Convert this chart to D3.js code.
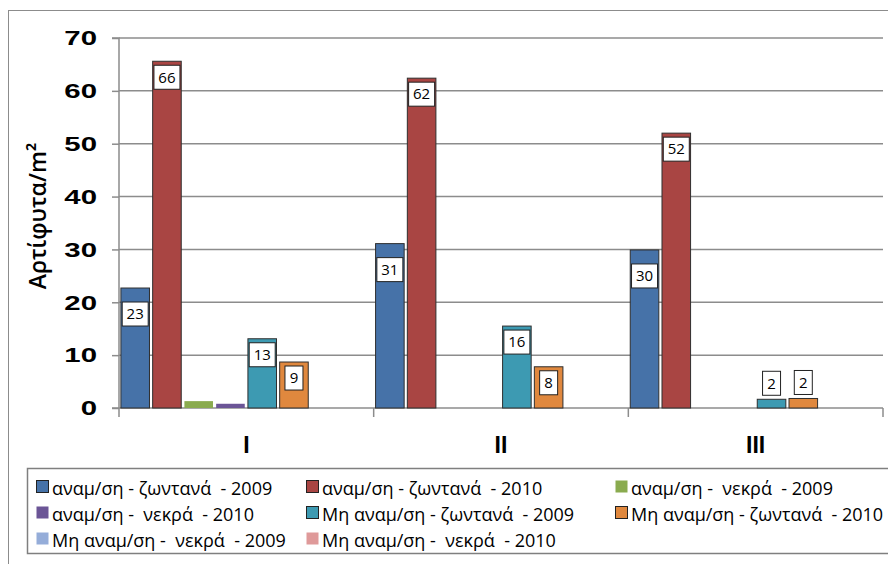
<!DOCTYPE html>
<html>
<head>
<meta charset="utf-8">
<script src="https://cdn.jsdelivr.net/npm/d3@7"></script>
<style>
  body { margin: 0; background: #fff; }
  svg { display: block; font-family: "Open Sans", sans-serif; }
</style>
</head>
<body>
<div id="chart"></div>
<script>
const categories = ["I", "II", "III"];
const seriesNames = [
    "αναμ/ση - ζωντανά  - 2009",
    "αναμ/ση - ζωντανά  - 2010",
    "αναμ/ση -  νεκρά  - 2009",
    "αναμ/ση -  νεκρά  - 2010",
    "Μη αναμ/ση - ζωντανά  - 2009",
    "Μη αναμ/ση - ζωντανά  - 2010",
    "Μη αναμ/ση -  νεκρά  - 2009",
    "Μη αναμ/ση -  νεκρά  - 2010"
];
const seriesValues = [
    [22.7, 31.1, 29.9],
    [65.6, 62.4, 52.0],
    [1.3, 0, 0],
    [0.8, 0, 0],
    [13.1, 15.5, 1.65],
    [8.7, 7.8, 1.8],
    [0, 0, 0],
    [0, 0, 0]
];
const seriesLabelled = [true, true, false, false, true, true, false, false];
const yTicks = [0, 10, 20, 30, 40, 50, 60, 70];
const yTitle = "Αρτίφυτα/m²";

(() => {
    const width = 888, height = 564;
    const plot = { left: 119, right: 883, top: 38, bottom: 408 };
    const colors = ["#4672a8", "#a94543", "#8aab4f", "#6b5596", "#3d9ab2", "#e0883e", "#95add9", "#df9a9a"];
    const outlined = [true, true, false, false, true, true, false, false];
    const tickStretch = 1.4;

    const svg = d3.select("#chart").append("svg")
        .attr("width", width)
        .attr("height", height);

    // chart frame
    svg.append("rect")
        .attr("x", 8.5).attr("y", 10.5)
        .attr("width", 900).attr("height", 600)
        .attr("fill", "none").attr("stroke", "#8c8c8c");

    const x0 = d3.scaleBand()
        .domain(categories)
        .range([plot.left, plot.right])
        .padding(0);

    const x1 = d3.scaleBand()
        .domain(d3.range(seriesNames.length))
        .range([0, x0.bandwidth()])
        .paddingInner(0.1)
        .paddingOuter(0.06);

    const y = d3.scaleLinear()
        .domain([0, 70])
        .range([plot.bottom, plot.top]);

    // gridlines
    svg.append("g")
        .selectAll("line")
        .data(yTicks.filter(d => d > 0))
        .enter()
        .append("line")
        .attr("x1", plot.left).attr("x2", plot.right)
        .attr("y1", d => y(d)).attr("y2", d => y(d))
        .attr("stroke", "#8c8c8c").attr("stroke-width", 1.5);

    // y axis
    const yAxis = svg.append("g")
        .attr("transform", `translate(${plot.left},0)`)
        .call(d3.axisLeft(y).tickValues(yTicks).tickSize(7).tickPadding(15));
    yAxis.select(".domain").attr("stroke", "#8c8c8c").attr("stroke-width", 1.5)
        .attr("d", `M-7,${plot.top}H0V${plot.bottom + 9}`);
    yAxis.selectAll(".tick line").attr("stroke", "#8c8c8c").attr("stroke-width", 1.5);
    yAxis.selectAll(".tick text")
        .attr("x", -22 / tickStretch)
        .attr("transform", `scale(${tickStretch},1)`)
        .style("font-size", "21px").style("font-weight", "bold").attr("fill", "#000");

    // x axis
    const xAxis = svg.append("g")
        .attr("transform", `translate(0,${plot.bottom})`)
        .call(d3.axisBottom(x0).tickSize(0).tickPadding(29));
    xAxis.select(".domain").attr("stroke", "#8c8c8c").attr("stroke-width", 1.5)
        .attr("d", `M${plot.left - 7},0H${plot.right}`);
    xAxis.selectAll(".tick text")
        .style("font-size", "23px").style("font-weight", "bold").attr("fill", "#000");
    xAxis.selectAll(".bound")
        .data(categories)
        .enter()
        .append("line")
        .attr("x1", d => x0(d) + x0.bandwidth()).attr("x2", d => x0(d) + x0.bandwidth())
        .attr("y1", 0).attr("y2", 9)
        .attr("stroke", "#8c8c8c").attr("stroke-width", 1.5);

    // bars
    const barData = [];
    seriesValues.forEach((vals, s) => {
        vals.forEach((v, c) => barData.push({ s, c: categories[c], v }));
    });

    svg.append("g")
        .selectAll("rect")
        .data(barData.filter(d => d.v > 0))
        .enter()
        .append("rect")
        .attr("x", d => x0(d.c) + x1(d.s))
        .attr("y", d => y(d.v))
        .attr("width", x1.bandwidth())
        .attr("height", d => y(0) - y(d.v))
        .attr("fill", d => colors[d.s])
        .attr("stroke", d => outlined[d.s] ? "#2f2f2f" : "none")
        .attr("stroke-width", 1);

    // value labels in boxes
    const labels = svg.append("g")
        .selectAll("g")
        .data(barData.filter(d => seriesLabelled[d.s] && d.v > 0))
        .enter()
        .append("g");

    labels.each(function(d) {
        const g = d3.select(this);
        const cx = x0(d.c) + x1(d.s) + x1.bandwidth() / 2;
        const txt = d3.format(".0f")(d.v);
        const bw = txt.length > 1 ? 26 : 18, bh = 24;
        const top = y(d.v);
        const offset = d.s === 0 ? 14 : 4;
        let by = top + offset;
        if (y(0) - top < bh + offset) by = top - bh - 4;
        g.append("rect")
            .attr("x", cx - bw / 2).attr("y", by)
            .attr("width", bw).attr("height", bh)
            .attr("fill", "#fff").attr("stroke", "#222").attr("stroke-width", 1);
        g.append("text")
            .attr("x", cx).attr("y", by + bh / 2)
            .attr("dy", "0.35em")
            .attr("text-anchor", "middle")
            .style("font-size", "15px")
            .attr("fill", "#000")
            .text(txt);
    });

    // y title
    svg.append("text")
        .attr("transform", `translate(46,216) rotate(-90)`)
        .attr("text-anchor", "middle")
        .style("font-size", "23px")
        .style("font-weight", "600")
        .attr("fill", "#000")
        .text(yTitle);

    // legend
    const legend = svg.append("g");
    legend.append("rect")
        .attr("x", 27.5).attr("y", 468.5)
        .attr("width", 900).attr("height", 85)
        .attr("fill", "none").attr("stroke", "#7f7f7f").attr("stroke-width", 1.5);

    const colX = [36, 306, 615], rowY = [495, 521, 547];
    const items = legend.selectAll(".item")
        .data(seriesNames)
        .enter()
        .append("g")
        .attr("class", "item")
        .attr("transform", (d, i) => `translate(${colX[i % 3]},${rowY[Math.floor(i / 3)]})`);

    items.append("rect")
        .attr("x", 0.5).attr("y", -14.5)
        .attr("width", 12).attr("height", 12)
        .attr("fill", (d, i) => colors[i])
        .attr("stroke", (d, i) => outlined[i] ? "#222" : "none");

    items.append("text")
        .attr("x", 16)
        .style("font-size", "18px")
        .style("white-space", "pre")
        .attr("fill", "#000")
        .text(d => d);
})();
</script>
</body>
</html>
